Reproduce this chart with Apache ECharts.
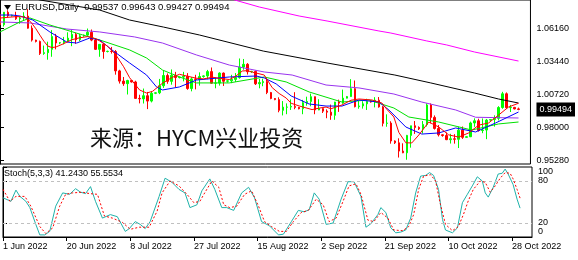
<!DOCTYPE html>
<html><head><meta charset="utf-8">
<script src="https://cdn.jsdelivr.net/npm/echarts@6/dist/echarts.min.js"></script>
<style>html,body{margin:0;padding:0;background:#fff}#c{width:578px;height:260px}</style>
</head><body><div id="c"></div>
<script>
// ---- bar dates (broker with Sunday bars) ----
const dates = ['Jun 1','Jun 2','Jun 3','Jun 5','Jun 6','Jun 7','Jun 8','Jun 9','Jun 10','Jun 12','Jun 13','Jun 14','Jun 15','Jun 16','Jun 17','Jun 19','Jun 20','Jun 21','Jun 22','Jun 23','Jun 24','Jun 26','Jun 27','Jun 28','Jun 29','Jun 30',
'Jul 1','Jul 3','Jul 4','Jul 5','Jul 6','Jul 7','Jul 8','Jul 10','Jul 11','Jul 12','Jul 13','Jul 14','Jul 15','Jul 17','Jul 18','Jul 19','Jul 20','Jul 21','Jul 22','Jul 24','Jul 25','Jul 26','Jul 27','Jul 28','Jul 29','Jul 31',
'Aug 1','Aug 2','Aug 3','Aug 4','Aug 5','Aug 7','Aug 8','Aug 9','Aug 10','Aug 11','Aug 12','Aug 14','Aug 15','Aug 16','Aug 17','Aug 18','Aug 19','Aug 21','Aug 22','Aug 23','Aug 24','Aug 25','Aug 26','Aug 28','Aug 29','Aug 30','Aug 31',
'Sep 1','Sep 2','Sep 4','Sep 5','Sep 6','Sep 7','Sep 8','Sep 9','Sep 11','Sep 12','Sep 13','Sep 14','Sep 15','Sep 16','Sep 18','Sep 19','Sep 20','Sep 21','Sep 22','Sep 23','Sep 25','Sep 26','Sep 27','Sep 28','Sep 29','Sep 30',
'Oct 2','Oct 3','Oct 4','Oct 5','Oct 6','Oct 7','Oct 9','Oct 10','Oct 11','Oct 12','Oct 13','Oct 14','Oct 16','Oct 17','Oct 18','Oct 19','Oct 20','Oct 21','Oct 23','Oct 24','Oct 25','Oct 26','Oct 27','Oct 28','Oct 30','Oct 31'];

const open = [1.0733,1.0646,1.0748,1.0719,1.0722,1.0694,1.0701,1.0716,1.0617,1.0519,
1.0508,1.0409,1.0416,1.0443,1.0548,1.0495,1.0498,1.0511,1.0535,1.0566,
1.0522,1.0554,1.0560,1.0583,1.0519,1.0443,1.0484,1.0425,1.0427,1.0425,
1.0266,1.0182,1.0161,1.0187,1.0175,1.0040,1.0036,1.0062,1.0018,1.0082,
1.0086,1.0144,1.0228,1.0180,1.0230,1.0211,1.0215,1.0222,1.0121,1.0200,
1.0196,1.0220,1.0225,1.0260,1.0165,1.0166,1.0248,1.0181,1.0184,1.0196,
1.0211,1.0298,1.0320,1.0259,1.0262,1.0160,1.0170,1.0178,1.0088,1.0039,
1.0030,0.9942,0.9968,0.9969,0.9974,0.9966,0.9955,1.0005,1.0015,1.0054,
0.9945,0.9956,0.9935,0.9927,0.9901,1.0010,1.0001,1.0042,1.0055,1.0120,
0.9972,0.9978,0.9995,1.0015,1.0010,1.0025,0.9970,0.9835,0.9837,0.9690,
0.9675,0.9607,0.9593,0.9736,0.9815,0.9801,0.9790,0.9825,0.9986,0.9884,
0.9793,0.9741,0.9735,0.9701,0.9708,0.9704,0.9779,0.9720,0.9725,0.9838,
0.9856,0.9776,0.9780,0.9862,0.9866,0.9876,0.9965,1.0078,0.9964,0.9966,0.99537];
const high = [1.0737,1.0750,1.0764,1.0728,1.0752,1.0711,1.0748,1.0774,1.0639,1.0522,
1.0515,1.0474,1.0506,1.0601,1.0570,1.0503,1.0545,1.0583,1.0606,1.0579,
1.0570,1.0564,1.0614,1.0606,1.0533,1.0485,1.0486,1.0432,1.0463,1.0437,
1.0275,1.0216,1.0193,1.0190,1.0185,1.0070,1.0121,1.0093,1.0098,1.0090,
1.0200,1.0268,1.0245,1.0278,1.0258,1.0220,1.0258,1.0248,1.0215,1.0234,
1.0254,1.0230,1.0274,1.0294,1.0212,1.0254,1.0253,1.0190,1.0234,1.0248,
1.0368,1.0364,1.0330,1.0266,1.0268,1.0200,1.0202,1.0202,1.0093,1.0043,
1.0049,1.0018,0.9999,1.0032,1.0091,0.9970,1.0028,1.0054,1.0079,1.0055,
1.0033,0.9960,0.9950,0.9989,1.0012,1.0030,1.0112,1.0060,1.0198,1.0187,
1.0019,1.0017,1.0037,1.0020,1.0050,1.0051,0.9977,0.9909,0.9852,0.9695,
0.9712,0.9671,0.9740,0.9815,0.9854,0.9810,0.9854,0.9999,0.9999,0.9900,
0.9821,0.9745,0.9760,0.9749,0.9746,0.9808,0.9809,0.9730,0.9849,0.9876,
0.9873,0.9875,0.9871,0.9870,0.9901,0.9976,1.0094,1.0089,0.9986,0.9970,0.99643];
const low = [1.0627,1.0630,1.0704,1.0712,1.0685,1.0653,1.0680,1.0613,1.0507,1.0500,
1.0397,1.0398,1.0358,1.0382,1.0443,1.0485,1.0484,1.0502,1.0469,1.0488,
1.0510,1.0546,1.0545,1.0510,1.0438,1.0382,1.0366,1.0418,1.0408,1.0235,
1.0162,1.0143,1.0072,1.0170,1.0036,0.9999,0.9998,0.9952,1.0007,1.0075,
1.0075,1.0126,1.0160,1.0153,1.0130,1.0204,1.0180,1.0111,1.0098,1.0114,
1.0145,1.0210,1.0197,1.0161,1.0123,1.0145,1.0142,1.0170,1.0165,1.0175,
1.0202,1.0275,1.0236,1.0250,1.0150,1.0123,1.0140,1.0075,1.0033,1.0025,
0.9926,0.9900,0.9910,0.9945,0.9951,0.9950,0.9910,0.9980,0.9975,0.9910,
0.9943,0.9920,0.9877,0.9864,0.9864,0.9929,0.9996,1.0040,1.0053,0.9966,
0.9955,0.9956,0.9945,1.0005,0.9966,0.9964,0.9810,0.9807,0.9668,0.9665,
0.9554,0.9590,0.9536,0.9635,0.9748,0.9780,0.9752,0.9809,0.9835,0.9784,
0.9727,0.9725,0.9697,0.9669,0.9668,0.9632,0.9707,0.9715,0.9722,0.9806,
0.9767,0.9754,0.9705,0.9855,0.9808,0.9859,0.9955,0.9955,0.9928,0.9950,0.99427];
const close = [1.0646,1.0748,1.0719,1.0722,1.0694,1.0701,1.0716,1.0617,1.0519,1.0508,
1.0409,1.0416,1.0443,1.0548,1.0495,1.0498,1.0511,1.0535,1.0566,1.0522,
1.0554,1.0560,1.0583,1.0519,1.0443,1.0484,1.0425,1.0427,1.0425,1.0266,
1.0182,1.0161,1.0187,1.0175,1.0040,1.0036,1.0062,1.0018,1.0082,1.0086,
1.0144,1.0228,1.0180,1.0230,1.0211,1.0215,1.0222,1.0121,1.0200,1.0196,
1.0220,1.0225,1.0260,1.0165,1.0166,1.0248,1.0181,1.0184,1.0196,1.0211,
1.0298,1.0320,1.0259,1.0262,1.0160,1.0170,1.0178,1.0088,1.0039,1.0030,
0.9942,0.9968,0.9969,0.9974,0.9966,0.9955,1.0005,1.0015,1.0054,0.9945,
0.9956,0.9935,0.9927,0.9901,1.0010,1.0001,1.0042,1.0055,1.0120,0.9972,
0.9978,0.9995,1.0015,1.0010,1.0025,0.9970,0.9835,0.9837,0.9690,0.9675,
0.9607,0.9593,0.9736,0.9815,0.9801,0.9790,0.9825,0.9986,0.9884,0.9793,
0.9741,0.9735,0.9701,0.9708,0.9704,0.9779,0.9720,0.9725,0.9838,0.9856,
0.9776,0.9780,0.9862,0.9866,0.9876,0.9965,1.0078,0.9964,0.9966,0.99537,0.99494];

// ---- moving averages: [bar index, price] ----
const maRed = [[0,1.0700],[2,1.0706],[4,1.0712],[6,1.0710],[7,1.0692],[8,1.0656],[9,1.0612],[10,1.0560],[11,1.0510],[12,1.0470],[13,1.0458],[14,1.0462],[16,1.0490],[18,1.0522],[20,1.0538],[22,1.0548],[24,1.0530],[25,1.0512],[27,1.0468],[29,1.0400],[31,1.0300],[32.5,1.0210],[35,1.0109],[36.75,1.0084],[38.25,1.0098],[40.75,1.0165],[43.25,1.0214],[45,1.0238],[47,1.0222],[49.25,1.0206],[51,1.0200],[53.25,1.0214],[55,1.0205],[57.5,1.0195],[59,1.0220],[60.75,1.0265],[62,1.0268],[63.25,1.0256],[66.25,1.0232],[68.25,1.0128],[70,1.0080],[71.75,1.0043],[73,1.0000],[75,0.9978],[78.25,0.9948],[80,0.9960],[81.75,0.9969],[83,0.9955],[85.75,0.9986],[88,1.0025],[90,1.0035],[93.25,1.0027],[95.75,1.0002],[97,0.9950],[98.75,0.9887],[100,0.9760],[101.75,0.9675],[103.25,0.9674],[105,0.9739],[107.5,0.9846],[110,0.9805],[112.5,0.9740],[115,0.9722],[117.5,0.9756],[120,0.9820],[122.5,0.9838],[125,0.9903],[127.5,0.9969],[130,1.0000]];
const maBlue = [[0,1.0725],[3,1.0725],[5,1.0717],[8.25,1.0684],[12.5,1.0586],[16.75,1.0503],[19.25,1.0495],[22.5,1.0536],[25,1.0520],[28,1.0440],[32.5,1.0331],[36.75,1.0232],[39.25,1.0134],[40.75,1.0109],[45,1.0134],[49.25,1.0191],[57.5,1.0216],[64.25,1.0224],[66.25,1.0208],[69.25,1.0159],[73,1.0060],[77.5,0.9994],[81.75,0.9977],[85.75,0.9977],[90,1.0027],[95,1.0010],[97.5,0.9945],[101.75,0.9805],[105.75,0.9747],[110,0.9756],[114.25,0.9797],[119.25,0.9764],[124.25,0.9838],[130,0.9928]];
const maGreen = [[0,1.0586],[5,1.0668],[7.5,1.0701],[12.5,1.0643],[20.75,1.0561],[25,1.0520],[32.5,1.0438],[36.75,1.0372],[40.75,1.0273],[45,1.0216],[49.25,1.0167],[57.5,1.0167],[66.25,1.0216],[71.75,1.0175],[77.5,1.0093],[85.75,1.0010],[92.5,1.0027],[98.75,0.9961],[102.5,0.9887],[110,0.9846],[118.25,0.9780],[125,0.9830],[130,0.9846]];
const maPurple = [[0,1.0668],[7.5,1.0660],[16.75,1.0610],[25,1.0586],[33.75,1.0545],[40.75,1.0495],[49.25,1.0397],[57.5,1.0314],[66.25,1.0257],[73.25,1.0232],[81.75,1.0150],[90,1.0126],[98.75,1.0076],[105.75,1.0010],[114.25,0.9945],[119.25,0.9885],[130,0.9879]];
const maBlack = [[5,1.0890],[10,1.0849],[25,1.0766],[32.5,1.0684],[41,1.0626],[50,1.0561],[66,1.0429],[82,1.0331],[99,1.0232],[108,1.0167],[119,1.0084],[125,1.0035],[130,1.0002]];
const maMagenta = [[50,1.0950],[59,1.0847],[65,1.0791],[75,1.0717],[82,1.0676],[95,1.0594],[98,1.0577],[107,1.0512],[112,1.0479],[119,1.0421],[130,1.0347]];

// ---- Stochastic(5,3,3): [bar index, value] ----
const stochMain = [[0,56],[2,51],[3.25,67],[4.25,58],[5.75,51],[6.75,42],[8.25,18],[9.25,3],[10.5,3],[11.75,8],[13.25,44],[15,63],[16.75,61],[18.25,69],[19.5,64],[20.75,62],[22,72],[23.25,51],[25,27],[27,32],[28.75,29],[30.75,8],[31.75,12],[33.25,22],[34.5,18],[35.75,12],[37,22],[39.25,58],[40.75,84],[42.5,78],[44.25,68],[45.75,63],[47,42],[48.75,46],[50,66],[52,83],[53.25,68],[55,42],[56.25,42],[58,38],[60,63],[61.75,71],[63.25,56],[65,22],[67,16],[69.25,3],[70.5,4],[72.5,22],[74.25,38],[75.75,36],[77,39],[78.25,63],[79.5,54],[81.25,18],[83,20],[85,54],[86.75,79],[88.25,79],[90,58],[91.25,14],[92.5,19],[94.25,32],[95,42],[96.25,35],[97.5,13],[98.75,6],[100,7],[101.25,10],[102.5,27],[103.75,63],[105,87],[106.25,88],[107.25,92],[108.25,88],[109.5,68],[110.5,25],[111.25,10],[113,6],[114.25,13],[115.5,49],[116.75,61],[118,73],[119.25,86],[120.5,80],[121.25,63],[122,57],[123.25,71],[124.5,90],[125.5,91],[126.25,97],[127,90],[128.25,75],[129.25,54],[130,41.2430]];
const stochSignal = [[0,68],[1.75,51],[3.25,58],[5.5,58],[7,44],[9.25,15],[10.75,5],[12.5,13],[14.25,44],[15.75,61],[17.5,63],[20,64],[21.75,62],[23.75,61],[25.5,30],[27.5,27],[30,21],[32,11],[34.25,14],[36.75,14],[38.75,37],[40,63],[42,80],[44.25,73],[46.25,61],[48,49],[49.5,51],[50.5,61],[52.5,80],[54.25,71],[55.5,46],[57,42],[58.75,44],[60.75,61],[62.5,66],[64.25,44],[65.75,22],[67.5,15],[69.5,8],[71.25,8],[73,22],[75,35],[76.75,38],[78.75,54],[80.5,46],[82,22],[83.75,27],[85.5,51],[87,73],[88.75,76],[90,61],[91.75,24],[93.25,22],[95,35],[96.75,27],[98.25,10],[100.5,9],[102,15],[103.25,32],[104.5,68],[105.75,87],[107.5,89],[108.75,80],[110,46],[111.25,18],[113,9],[114.5,15],[115.75,32],[117,52],[118.25,68],[120,80],[121.25,78],[122.5,64],[123.75,73],[125,84],[126.25,92],[127.5,91],[128.25,83],[129.25,68],[130,55.5534]];

// ---- axis tick labels ----
const priceTicks = [0.9528, 0.9800, 1.0072, 1.0344, 1.0616];
const stochTicks = [0, 20, 80, 100];
const stochInnerLabels = [20, 80];
const stochEdgeText = ['0', '100'];
const stochEdgePos = [8, 93];   // MT4 draws the end labels just inside the window
const dateTickIdx = [0, 16, 32, 48, 64, 80, 96, 112, 128];
const dateTicks = ['1 Jun 2022','20 Jun 2022','8 Jul 2022','27 Jul 2022','15 Aug 2022','2 Sep 2022','21 Sep 2022','10 Oct 2022','28 Oct 2022'];

const N = dates.length;
const cats = dates.concat(['', '', '']);         // right-side shift area
const last = N - 1;
const lastPrice = close[last];
const candleData = open.map((o, i) => [o, close[i], low[i], high[i]]);
const FONT = '"Liberation Sans", Arial, sans-serif';

function ma(data, color) {
  return {type:'line', xAxisIndex:1, yAxisIndex:0, data, symbol:'none', showSymbol:false, silent:true,
    lineStyle:{color, width:1}, z:4, animation:false};
}

const chart = echarts.init(document.getElementById('c'), null, {renderer:'canvas'});
chart.setOption({
  animation:false,
  backgroundColor:'#fff',
  grid:[
    {left:0, top:0, width:532, height:164, show:true, borderColor:'#000', borderWidth:1, backgroundColor:'transparent'},
    {left:0, top:167, width:532, height:70, show:true, borderColor:'#000', borderWidth:1, backgroundColor:'transparent'}
  ],
  xAxis:[
    {type:'category', gridIndex:0, data:cats, boundaryGap:false, show:false},
    {type:'value', gridIndex:0, min:0, max:cats.length-1, show:false},
    {type:'value', gridIndex:1, min:0, max:cats.length-1, interval:16, position:'bottom',
      axisLine:{show:true, lineStyle:{color:'#000'}},
      axisTick:{show:true, length:4, lineStyle:{color:'#000'}},
      splitLine:{show:false},
      axisLabel:{show:true, align:'left', margin:5, color:'#000', fontSize:9, fontFamily:FONT, showMaxLabel:false, hideOverlap:false,
        formatter:v => { const k = dateTickIdx.indexOf(v); return k >= 0 ? dateTicks[k] : ''; }}}
  ],
  yAxis:[
    {type:'value', gridIndex:0, position:'right', min:0.95009, max:1.08485, scale:true,
      axisLine:{show:true, lineStyle:{color:'#000'}},
      axisTick:{show:true, length:4, customValues:priceTicks, lineStyle:{color:'#000'}},
      splitLine:{show:false},
      axisLabel:{customValues:priceTicks.concat([lastPrice]), margin:6, color:'#000', fontSize:9, fontFamily:FONT, hideOverlap:false,
        lineHeight:9,
        formatter:v => Math.abs(v - lastPrice) < 1e-7 ? '{cur|' + v.toFixed(5) + '}' : v.toFixed(5),
        rich:{cur:{backgroundColor:'#000', color:'#fff', fontSize:9, fontFamily:FONT, lineHeight:9, padding:[3,3,2,3]}}}},
    {type:'value', gridIndex:1, position:'right', min:0, max:100, interval:20,
      axisLine:{show:true, lineStyle:{color:'#000'}},
      axisTick:{show:true, length:4, customValues:stochTicks, lineStyle:{color:'#000'}},
      splitLine:{show:false},
      axisLabel:{customValues:stochInnerLabels, margin:6, color:'#000', fontSize:9, fontFamily:FONT, hideOverlap:false}},
    {type:'value', gridIndex:1, position:'right', min:0, max:100,
      axisLine:{show:false}, axisTick:{show:false}, splitLine:{show:false},
      axisLabel:{customValues:stochEdgePos, margin:6, color:'#000', fontSize:9, fontFamily:FONT, hideOverlap:false,
        showMinLabel:true, showMaxLabel:true,
        formatter:v => { const k = stochEdgePos.indexOf(v); return k >= 0 ? stochEdgeText[k] : ''; }}}
  ],
  series:[
    {type:'candlestick', xAxisIndex:0, yAxisIndex:0, data:candleData, barWidth:2, silent:true, z:3,
      itemStyle:{color:'#00ff00', color0:'#ff0000', borderColor:'#00ff00', borderColor0:'#ff0000', borderWidth:1}},
    ma(maMagenta, '#ff00ff'),
    ma(maBlack, '#000000'),
    ma(maPurple, '#9933ee'),
    ma(maGreen, '#00e000'),
    ma(maBlue, '#0000ff'),
    ma(maRed, '#ff0000'),
    {type:'line', xAxisIndex:2, yAxisIndex:1, data:stochMain, symbol:'none', silent:true,
      lineStyle:{color:'#20b2aa', width:1}, z:4,
      markLine:{silent:true, symbol:['none','none'], label:{show:false},
        lineStyle:{color:'#c0c0c0', type:[3,3], width:1},
        data:[{yAxis:20},{yAxis:80}]}},
    {type:'line', xAxisIndex:2, yAxisIndex:1, data:stochSignal, symbol:'none', silent:true,
      lineStyle:{color:'#ff0000', width:1, type:[2,2]}, z:5}
  ],
  graphic:[
    {type:'polygon', shape:{points:[[4,5],[11,5],[7.5,10]]}, style:{fill:'#000'}, z:100},
    {type:'text', left:15, top:2, z:100,
      style:{text:'EURUSD,Daily  ' + [open[last], high[last], low[last], close[last]].map(v => v.toFixed(5)).join(' '),
        font:'9.5px ' + FONT, fill:'#000'}},
    {type:'text', left:4, top:169, z:100,
      style:{text:'Stoch(5,3,3) ' + stochMain[stochMain.length-1][1].toFixed(4) + ' ' + stochSignal[stochSignal.length-1][1].toFixed(4),
        font:'9px ' + FONT, fill:'#000'}},
    {type:'text', left:90, top:127, z:100,
      style:{text:'来源：HYCM兴业投资', font:'22px "Noto Sans CJK SC"', fill:'#111'}}
  ]
});
</script>
</body></html>
